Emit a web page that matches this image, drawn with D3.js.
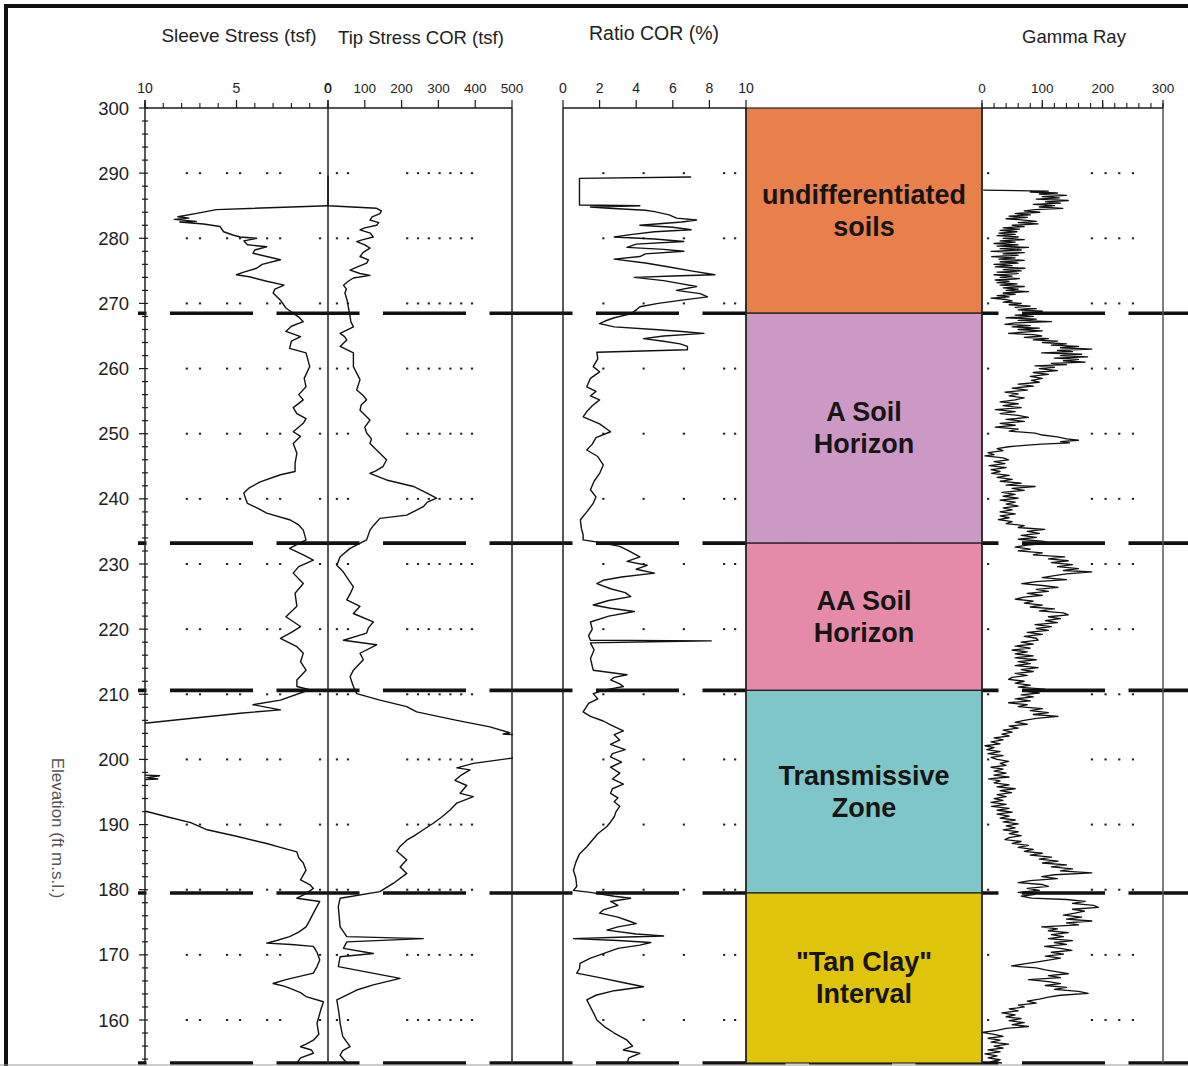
<!DOCTYPE html>
<html>
<head>
<meta charset="utf-8">
<script src="https://cdn.jsdelivr.net/npm/d3@7"></script>
<style>
  body { margin: 0; background: #fff; }
  svg { display: block; font-family: "Liberation Sans", Arial, sans-serif; }
</style>
</head>
<body>
<div id="chart"></div>
<script>
// ---- data (elevation in ft m.s.l., value) ----
const sleeveStress = [
  [285.0, 0], [284.4, 6.1], [283.7, 7.4], [283.3, 8.2], [283.1, 7.6], [282.9, 8.4], [282.6, 7.2], [282.5, 8.1],
  [282.2, 6.8], [281.8, 5.9], [281.0, 5.7], [280.5, 5.2], [280.2, 4.8], [280.0, 3.9], [279.6, 4.6], [279.0, 4.4],
  [278.7, 3.35], [278.2, 4.0], [277.7, 4.1], [277.2, 3.35], [276.7, 2.6], [276.0, 3.6], [275.4, 3.9], [274.8, 4.6],
  [274.4, 5.0], [274.1, 4.3], [273.4, 3.35], [272.8, 2.4], [272.2, 2.9], [271.6, 3.0], [270.5, 2.6], [269.3, 2.3],
  [268.5, 1.9], [267.9, 1.6], [267.2, 1.35], [266.5, 2.0], [265.7, 2.3], [264.9, 1.5], [264.2, 2.0], [263.1, 2.1],
  [262.4, 1.2], [260.3, 1.0], [258.5, 1.3], [257.2, 1.2], [256.0, 1.6], [255.2, 1.35], [254.0, 1.9], [253.1, 1.7],
  [252.3, 1.2], [251.6, 1.35], [250.3, 1.9], [249.6, 1.5], [248.5, 1.9], [247.0, 1.7], [245.5, 1.8], [244.2, 1.8],
  [243.7, 2.6], [242.6, 3.7], [241.7, 4.3], [240.9, 4.6], [240.0, 4.5], [239.3, 4.4], [238.5, 3.8], [237.8, 3.35],
  [236.8, 2.1], [236.0, 1.6], [235.2, 1.35], [233.7, 1.2], [232.4, 2.1], [231.4, 1.35], [230.6, 0.8], [229.6, 1.6],
  [228.6, 1.9], [227.0, 1.35], [225.5, 1.8], [223.5, 1.7], [221.9, 2.3], [220.4, 1.5], [219.5, 2.0], [218.6, 2.6],
  [217.3, 1.7], [216.3, 1.35], [215.0, 1.5], [213.7, 1.2], [212.2, 1.7], [211.2, 1.7], [210.7, 1.0], [209.1, 2.6],
  [208.4, 4.1], [207.6, 2.6], [207.1, 4.8], [205.6, 9.9], [205.3, 12], [197.8, 12], [197.5, 9.2], [197.2, 9.9],
  [197.0, 9.3], [196.7, 12], [192.3, 12], [192.0, 9.9], [191.2, 8.8], [190.3, 7.5], [189.2, 6.6], [188.2, 5.0],
  [187.1, 3.35], [186.5, 2.6], [185.8, 1.7], [184.9, 1.6], [184.1, 1.35], [183.0, 1.2], [181.5, 1.5], [180.8, 1.0],
  [180.2, 0.8], [179.4, 1.2], [178.7, 1.7], [178.2, 0.45], [176.4, 0.8], [175.3, 1.0], [174.3, 1.2], [173.5, 1.6],
  [172.8, 2.1], [172.2, 2.8], [171.8, 3.35], [171.6, 2.0], [171.3, 0.8], [170.4, 0.6], [169.2, 0.45], [168.2, 0.6],
  [167.2, 0.8], [166.2, 2.3], [165.6, 3.0], [165.2, 2.4], [164.9, 2.1], [164.2, 1.5], [163.6, 1.2], [162.8, 0.25],
  [161.5, 0.4], [159.5, 0.6], [157.8, 0.5], [156.9, 0.8], [156.3, 1.2], [155.9, 1.5], [155.4, 0.9], [154.9, 0.8],
  [154.2, 1.5], [153.4, 1.7]
];

const tipStress = [
  [289.6, 0], [285.0, 0], [284.6, 132], [284.2, 145], [283.8, 141], [283.3, 120], [282.8, 114], [282.4, 138],
  [282.0, 132], [281.6, 100], [281.3, 87], [280.8, 115], [280.2, 123], [279.8, 95], [279.5, 78], [279.0, 100],
  [278.5, 114], [277.8, 95], [277.2, 87], [276.7, 110], [276.2, 105], [275.6, 80], [275.1, 60], [274.6, 87],
  [274.3, 114], [273.9, 69], [273.4, 55], [272.8, 42], [272.2, 50], [271.6, 46], [270.5, 52], [269.5, 55],
  [268.0, 60], [267.2, 62], [266.4, 69], [265.4, 33], [264.9, 45], [264.4, 51], [263.4, 33], [262.4, 69],
  [260.3, 69], [258.3, 87], [256.7, 78], [255.9, 95], [255.2, 105], [254.4, 90], [253.6, 87], [252.1, 114],
  [251.0, 100], [250.1, 105], [249.2, 118], [248.5, 114], [247.0, 141], [246.0, 159], [245.0, 150], [244.3, 130],
  [243.9, 114], [242.9, 159], [241.9, 232], [241.0, 265], [240.1, 295], [239.5, 270], [238.8, 259], [237.5, 214],
  [237.0, 141], [236.0, 125], [235.2, 114], [233.7, 105], [232.4, 60], [231.1, 33], [229.8, 24], [228.9, 40],
  [228.0, 51], [226.5, 69], [225.4, 60], [224.5, 51], [223.5, 87], [222.4, 69], [221.1, 123], [220.2, 110],
  [219.4, 105], [218.3, 42], [217.6, 132], [216.3, 87], [215.3, 96], [213.7, 69], [212.7, 60], [211.2, 69],
  [210.1, 78], [209.1, 141], [208.1, 214], [207.3, 241], [206.0, 350], [205.0, 440], [204.1, 494], [203.9, 476],
  [203.7, 530], [200.4, 530], [200.2, 500], [199.4, 395], [198.7, 350], [198.4, 386], [197.5, 360], [196.8, 345],
  [196.0, 377], [194.8, 359], [194.3, 395], [193.3, 350], [192.2, 331], [191.2, 310], [190.2, 286], [189.2, 259],
  [188.3, 235], [187.6, 214], [186.6, 195], [185.9, 187], [184.6, 214], [183.5, 196], [182.5, 214], [181.0, 178],
  [179.7, 141], [178.7, 33], [177.4, 28], [174.3, 33], [172.8, 51], [172.5, 259], [172.0, 51], [171.0, 42],
  [170.2, 123], [169.7, 33], [168.2, 28], [166.4, 196], [165.4, 123], [164.6, 78], [163.1, 24], [161.0, 30],
  [159.5, 33], [157.5, 40], [155.9, 60], [155.3, 40], [154.6, 33], [153.4, 51]
];

const ratioCOR = [
  [289.4, 7.0], [289.2, 0.9], [285.1, 0.9], [285.0, 4.2], [284.8, 1.5], [284.6, 2.5], [284.3, 4.5], [284.1, 5.0],
  [283.6, 5.8], [283.1, 6.2], [282.8, 7.3], [282.5, 6.5], [282.0, 4.2], [281.7, 6.0], [281.3, 7.0], [281.0, 5.0],
  [280.6, 3.8], [280.2, 2.8], [279.9, 5.0], [279.5, 6.6], [279.1, 4.0], [278.6, 3.5], [278.3, 5.5], [278.0, 6.6],
  [277.6, 4.5], [277.2, 4.2], [276.8, 2.8], [276.2, 4.5], [275.6, 5.8], [275.0, 7.0], [274.4, 8.3], [274.2, 6.0],
  [274.0, 3.9], [273.5, 5.5], [273.0, 6.5], [272.6, 7.3], [272.0, 6.2], [271.5, 7.5], [271.0, 7.9], [270.5, 6.5],
  [270.0, 5.2], [269.5, 4.2], [269.0, 4.0], [268.4, 3.7], [267.8, 2.8], [267.3, 2.3], [266.9, 2.0], [266.4, 2.8],
  [266.0, 5.0], [265.7, 6.5], [265.4, 7.7], [265.0, 5.5], [264.6, 4.4], [264.2, 5.5], [263.8, 6.4], [263.4, 6.8],
  [262.9, 6.8], [262.5, 1.85], [261.5, 1.9], [260.3, 1.65], [259.5, 2.0], [258.5, 1.5], [257.2, 1.3], [256.5, 1.8],
  [255.8, 1.5], [255.2, 2.0], [254.3, 1.6], [253.4, 1.3], [252.6, 1.1], [251.5, 2.0], [250.3, 2.6], [249.4, 1.8],
  [248.4, 1.6], [247.5, 1.3], [246.5, 1.9], [245.2, 2.2], [243.9, 2.0], [242.7, 1.7], [241.4, 1.5], [240.3, 1.8],
  [239.3, 1.65], [238.0, 1.3], [236.8, 0.95], [235.5, 1.0], [234.5, 1.1], [233.7, 1.1], [233.4, 1.8], [232.7, 3.1],
  [232.0, 3.6], [231.1, 4.2], [230.4, 3.5], [229.8, 4.6], [229.2, 4.0], [228.6, 5.0], [228.0, 3.2], [227.5, 2.2],
  [227.0, 1.85], [226.2, 2.6], [225.6, 3.4], [225.0, 3.7], [224.4, 2.5], [223.7, 1.65], [223.2, 2.6], [222.7, 3.9],
  [222.0, 2.5], [221.1, 1.5], [220.0, 1.6], [219.0, 1.4], [218.3, 1.5], [218.2, 8.1], [217.9, 1.5], [216.8, 1.7],
  [215.5, 1.5], [214.3, 1.6], [213.7, 1.65], [213.0, 3.5], [212.6, 2.8], [212.2, 2.6], [211.6, 3.1], [211.2, 3.3],
  [210.6, 2.2], [210.1, 1.65], [209.3, 1.9], [208.6, 1.4], [207.3, 1.1], [206.6, 1.5], [205.9, 2.2], [205.3, 2.6],
  [204.4, 3.3], [203.8, 2.8], [203.0, 3.1], [202.3, 2.6], [201.5, 3.4], [200.9, 2.7], [200.4, 2.6], [199.6, 3.2],
  [198.8, 2.6], [197.9, 3.1], [197.0, 2.7], [196.2, 3.3], [195.5, 2.7], [194.8, 2.6], [194.1, 3.0], [193.5, 2.8],
  [192.8, 3.1], [192.0, 2.9], [191.2, 2.8], [190.4, 2.6], [189.7, 2.4], [188.6, 1.9], [187.6, 1.6], [186.6, 1.3],
  [185.5, 0.9], [184.2, 0.7], [183.0, 0.57], [181.8, 0.7], [180.5, 0.75], [179.9, 0.57], [179.6, 1.5], [179.0, 2.8],
  [178.7, 3.7], [178.2, 2.6], [177.6, 3.0], [176.9, 2.2], [176.4, 2.0], [175.8, 3.0], [175.2, 3.6], [174.8, 4.0],
  [174.3, 3.0], [173.8, 2.4], [173.2, 4.0], [172.9, 5.5], [172.7, 3.0], [172.5, 0.57], [172.2, 3.0], [171.9, 4.8],
  [171.5, 4.2], [171.0, 3.0], [170.2, 2.2], [169.5, 1.5], [168.7, 0.93], [167.9, 0.9], [167.2, 0.75], [166.5, 2.0],
  [165.8, 3.2], [165.1, 4.4], [164.5, 2.8], [163.8, 1.8], [163.1, 1.3], [162.0, 1.5], [160.9, 1.7], [160.0, 1.85],
  [158.9, 2.3], [158.0, 2.8], [156.9, 3.5], [156.0, 3.8], [155.4, 3.3], [154.9, 4.2], [154.2, 3.6], [153.4, 3.5]
];

const gammaRay = [
  [287.4, 2], [287.25, 110], [287.1, 80], [286.95, 125], [286.8, 95], [286.6, 140], [286.4, 100], [286.2, 128],
  [286.0, 90], [285.8, 143], [285.6, 105], [285.4, 130], [285.2, 85], [285.0, 120], [284.8, 95], [284.6, 134],
  [284.4, 88], [284.2, 70], [284.0, 96], [283.8, 55], [283.6, 80], [283.4, 45], [283.2, 75], [283.0, 40],
  [282.8, 70], [282.6, 90], [282.4, 60], [282.2, 93], [282.0, 50], [281.8, 70], [281.6, 35], [281.4, 62],
  [281.2, 30], [281.0, 58], [280.8, 28], [280.6, 55], [280.4, 25], [280.2, 60], [280.0, 35], [279.8, 70],
  [279.6, 30], [279.4, 55], [279.2, 20], [279.0, 60], [278.8, 25], [278.6, 77], [278.4, 30], [278.2, 65],
  [278.0, 15], [277.8, 70], [277.6, 35], [277.4, 60], [277.2, 16], [277.0, 55], [276.8, 28], [276.6, 70],
  [276.4, 30], [276.2, 60], [276.0, 20], [275.8, 50], [275.6, 22], [275.4, 71], [275.2, 35], [275.0, 65],
  [274.8, 25], [274.6, 60], [274.4, 20], [274.2, 50], [274.0, 30], [273.8, 62], [273.6, 22], [273.4, 45],
  [273.2, 25], [273.0, 58], [272.8, 30], [272.6, 70], [272.4, 35], [272.2, 60], [272.0, 40], [271.8, 77],
  [271.6, 35], [271.4, 55], [271.2, 25], [271.0, 45], [270.8, 15], [270.6, 40], [270.4, 50], [270.2, 35],
  [270.0, 65], [269.8, 45], [269.6, 80], [269.4, 55], [269.2, 90], [269.0, 60], [268.8, 100], [268.6, 70],
  [268.4, 95], [268.2, 55], [268.0, 85], [267.8, 40], [267.6, 90], [267.4, 60], [267.2, 115], [267.0, 55],
  [266.8, 38], [266.6, 80], [266.4, 50], [266.2, 95], [266.0, 60], [265.8, 100], [265.6, 70], [265.4, 44],
  [265.2, 85], [265.0, 99], [264.8, 70], [264.6, 110], [264.4, 85], [264.2, 125], [264.0, 100], [263.8, 140],
  [263.6, 115], [263.4, 160], [263.2, 130], [263.0, 182], [262.8, 125], [262.6, 150], [262.4, 99], [262.2, 165],
  [262.0, 130], [261.8, 175], [261.6, 120], [261.4, 160], [261.2, 135], [261.0, 171], [260.8, 115], [260.6, 140],
  [260.4, 88], [260.2, 120], [260.0, 95], [259.7, 125], [259.4, 85], [259.1, 110], [258.8, 80], [258.5, 100],
  [258.2, 82], [257.9, 95], [257.6, 60], [257.3, 85], [257.0, 50], [256.7, 75], [256.4, 38], [256.1, 60],
  [255.8, 45], [255.5, 70], [255.2, 55], [254.9, 30], [254.6, 60], [254.3, 35], [254.0, 65], [253.7, 22],
  [253.4, 55], [253.1, 30], [252.8, 60], [252.5, 77], [252.2, 40], [251.9, 70], [251.6, 30], [251.3, 55],
  [251.0, 22], [250.7, 60], [250.4, 45], [250.1, 88], [249.8, 100], [249.5, 125], [249.2, 140], [249.0, 160],
  [248.8, 130], [248.6, 145], [248.4, 99], [248.2, 70], [248.0, 44], [247.7, 25], [247.4, 35], [247.1, 10],
  [246.8, 20], [246.6, 5], [246.3, 35], [246.0, 44], [245.7, 20], [245.4, 38], [245.1, 12], [244.8, 40],
  [244.5, 15], [244.2, 30], [243.9, 16], [243.6, 45], [243.3, 25], [243.0, 50], [242.7, 30], [242.4, 65],
  [242.1, 40], [241.9, 88], [241.6, 50], [241.3, 70], [241.0, 33], [240.7, 55], [240.4, 35], [240.1, 60],
  [239.8, 30], [239.5, 55], [239.2, 40], [238.9, 60], [238.6, 35], [238.3, 50], [238.0, 30], [237.7, 55],
  [237.4, 30], [237.1, 45], [236.8, 27], [236.5, 50], [236.2, 40], [235.9, 70], [235.6, 60], [235.3, 104],
  [235.0, 75], [234.7, 95], [234.4, 65], [234.1, 90], [233.8, 60], [233.5, 100], [233.2, 115], [232.9, 75],
  [232.6, 55], [232.3, 80], [232.0, 60], [231.7, 100], [231.4, 85], [231.1, 137], [230.8, 110], [230.5, 143],
  [230.2, 115], [229.9, 150], [229.6, 125], [229.3, 160], [229.0, 135], [228.8, 182], [228.5, 140], [228.2, 120],
  [227.9, 100], [227.6, 140], [227.3, 90], [227.0, 66], [226.7, 100], [226.4, 126], [226.1, 90], [225.8, 110],
  [225.5, 75], [225.2, 100], [224.9, 70], [224.6, 55], [224.3, 85], [224.0, 70], [223.7, 100], [223.4, 80],
  [223.1, 120], [222.8, 95], [222.5, 135], [222.2, 143], [221.9, 110], [221.6, 130], [221.3, 105], [221.0, 125],
  [220.7, 88], [220.4, 115], [220.1, 90], [219.8, 110], [219.5, 75], [219.2, 100], [218.9, 70], [218.6, 90],
  [218.3, 93], [218.0, 65], [217.7, 85], [217.4, 55], [217.1, 80], [216.8, 50], [216.5, 75], [216.2, 55],
  [215.9, 85], [215.6, 55], [215.3, 90], [215.0, 60], [214.7, 80], [214.4, 55], [214.1, 93], [213.8, 65],
  [213.5, 85], [213.2, 55], [212.9, 75], [212.6, 50], [212.3, 44], [212.0, 70], [211.7, 55], [211.4, 80],
  [211.1, 60], [210.8, 104], [210.5, 70], [210.2, 95], [209.9, 65], [209.6, 85], [209.3, 55], [209.0, 80],
  [208.7, 44], [208.4, 75], [208.1, 60], [207.8, 100], [207.5, 80], [207.2, 110], [206.9, 85], [206.6, 126],
  [206.3, 90], [206.0, 70], [205.7, 55], [205.4, 75], [205.1, 45], [204.8, 60], [204.5, 35], [204.2, 50],
  [203.9, 33], [203.6, 45], [203.3, 20], [203.0, 35], [202.7, 15], [202.4, 30], [202.1, 5], [201.8, 20],
  [201.5, 8], [201.2, 30], [200.9, 10], [200.6, 35], [200.3, 15], [200.0, 25], [199.7, 44], [199.4, 30],
  [199.1, 40], [198.8, 15], [198.5, 35], [198.2, 20], [197.9, 40], [197.6, 20], [197.3, 45], [197.0, 11],
  [196.7, 30], [196.4, 20], [196.1, 45], [195.8, 25], [195.5, 55], [195.2, 30], [194.9, 49], [194.6, 25],
  [194.3, 40], [194.0, 20], [193.7, 35], [193.4, 15], [193.1, 40], [192.8, 16], [192.5, 45], [192.2, 25],
  [191.9, 50], [191.6, 25], [191.3, 45], [191.0, 30], [190.7, 55], [190.4, 35], [190.1, 60], [189.8, 40],
  [189.5, 55], [189.2, 35], [188.9, 60], [188.6, 45], [188.3, 65], [188.0, 45], [187.7, 38], [187.4, 65],
  [187.1, 50], [186.8, 77], [186.5, 60], [186.2, 85], [185.9, 70], [185.6, 100], [185.3, 80], [185.0, 115],
  [184.7, 95], [184.4, 126], [184.1, 100], [183.8, 140], [183.5, 115], [183.2, 150], [182.9, 130], [182.6, 182],
  [182.3, 120], [182.0, 99], [181.7, 125], [181.4, 80], [181.1, 60], [180.8, 100], [180.5, 110], [180.2, 75],
  [179.9, 95], [179.6, 60], [179.3, 88], [179.0, 65], [178.7, 82], [178.5, 140], [178.2, 171], [177.9, 150],
  [177.6, 185], [177.3, 193], [177.0, 150], [176.7, 170], [176.4, 154], [176.1, 135], [175.8, 165], [175.5, 140],
  [175.2, 182], [174.9, 140], [174.6, 160], [174.3, 99], [174.0, 125], [173.7, 110], [173.4, 143], [173.1, 115],
  [172.8, 135], [172.5, 110], [172.2, 150], [171.9, 120], [171.6, 140], [171.3, 104], [171.0, 130], [170.7, 149],
  [170.4, 115], [170.1, 135], [169.8, 105], [169.5, 130], [169.2, 110], [168.9, 90], [168.6, 70], [168.3, 49],
  [168.0, 90], [167.7, 105], [167.4, 125], [167.1, 143], [166.8, 110], [166.5, 130], [166.2, 77], [165.9, 110],
  [165.6, 130], [165.3, 105], [165.0, 140], [164.7, 120], [164.4, 160], [164.1, 176], [163.8, 130], [163.5, 110],
  [163.2, 95], [162.9, 75], [162.6, 90], [162.3, 60], [162.0, 70], [161.7, 45], [161.4, 60], [161.1, 33],
  [160.8, 55], [160.5, 40], [160.2, 65], [159.9, 45], [159.6, 70], [159.3, 50], [159.0, 77], [158.7, 40],
  [158.4, 25], [158.1, 0], [157.8, 20], [157.5, 35], [157.2, 10], [156.9, 30], [156.6, 15], [156.3, 44],
  [156.0, 20], [155.7, 35], [155.4, 10], [155.1, 30], [154.8, 5], [154.5, 25], [154.2, 10], [153.9, 30],
  [153.6, 15], [153.4, 33]
];

// lithology units: top / bottom elevation
const unitNames = [["undifferentiated", "soils"], ["A Soil", "Horizon"], ["AA Soil", "Horizon"],
                   ["Transmissive", "Zone"], ["\"Tan Clay\"", "Interval"]];
const unitTops = [300, 268.5, 233.2, 210.6, 179.5];
const unitBottoms = [268.5, 233.2, 210.6, 179.5, 153.4];
const unitColors = ["#e97f4b", "#cc98c4", "#e68aa9", "#7fc6c8", "#e0c40b"];

// tick labels
const elevTicks = [300, 290, 280, 270, 260, 250, 240, 230, 220, 210, 200, 190, 180, 170, 160];
const sleeveTicks = [10, 5, 0];
const tipTicks = [0, 100, 200, 300, 400, 500];
const ratioTicks = [0, 2, 4, 6, 8, 10];
const gammaTicks = [0, 100, 200, 300];

// ---- layout ----
const W = 1188, H = 1066;
const svg = d3.select("#chart").append("svg").attr("width", W).attr("height", H);

const y = d3.scaleLinear().domain([300, 153.4]).range([108, 1063]);
const xSleeve = d3.scaleLinear().domain([10, 0]).range([145, 328]);
const xTip = d3.scaleLinear().domain([0, 500]).range([328, 512]);
const xRatio = d3.scaleLinear().domain([0, 10]).range([563, 746]);
const xGamma = d3.scaleLinear().domain([0, 300]).range([982, 1163]);

const ink = "#1a1a1a";

// dotted grid rows every 10 ft (sparse dots like the original print)
const gridElevs = d3.range(290, 155, -10);
const dotRuns = [
  [xSleeve, 7.72, 7.0, 2], [xSleeve, 5.52, 4.81, 2], [xSleeve, 3.33, 2.62, 2], [xSleeve, 0.44, 0.44, 1],
  [xTip, 24, 54, 2], [xTip, 215, 391, 7],
  [xRatio, 2.2, 6.6, 3], [xRatio, 8.8, 9.4, 2],
  [xGamma, 10, 10, 1], [xGamma, 182, 250, 4]
];
const dots = svg.append("g");
gridElevs.forEach(e => {
  dotRuns.forEach(([sc, a, b, n]) => {
    for (let i = 0; i < n; i++) {
      const v = n === 1 ? a : a + (b - a) * i / (n - 1);
      dots.append("rect").attr("x", sc(v) - 1).attr("y", y(e) - 1)
        .attr("width", 2.2).attr("height", 2).attr("fill", "#222");
    }
  });
});

// dashed unit boundaries
svg.append("g").selectAll("line").data(unitBottoms).join("line")
  .attr("x1", 138).attr("x2", W)
  .attr("y1", d => y(d)).attr("y2", d => y(d))
  .attr("stroke", "#111").attr("stroke-width", 3.6)
  .attr("stroke-dasharray", "83 23.5").attr("stroke-dashoffset", 74.5);

// lithology column
const units = unitNames.map((n, i) => ({ name: n, top: unitTops[i], bot: unitBottoms[i], color: unitColors[i] }));
const lith = svg.append("g");
const lithMid = (xRatio(10) + xGamma(0)) / 2;
lith.selectAll("rect").data(units).join("rect")
  .attr("x", xRatio(10)).attr("width", xGamma(0) - xRatio(10))
  .attr("y", d => y(d.top)).attr("height", d => y(d.bot) - y(d.top))
  .attr("fill", d => d.color).attr("stroke", "#222").attr("stroke-width", 1.2);
lith.selectAll("text").data(units).join("text")
  .attr("x", lithMid)
  .attr("y", d => (y(d.top) + y(d.bot)) / 2)
  .attr("text-anchor", "middle")
  .attr("font-size", 27).attr("font-weight", "bold").attr("fill", "#151515")
  .selectAll("tspan").data(d => d.name.map((t, i) => ({ t, i }))).join("tspan")
  .attr("x", lithMid)
  .attr("dy", d => d.i === 0 ? -7 : 32)
  .text(d => d.t);

// vertical frame lines
const vlines = [
  [xSleeve(10), "#222"], [xSleeve(0), "#222"], [xTip(500), "#222"],
  [xRatio(0), "#222"], [xRatio(10), "#222"], [xGamma(0), "#222"], [xGamma(300), "#555"]
];
svg.append("g").selectAll("line").data(vlines).join("line")
  .attr("x1", d => d[0]).attr("x2", d => d[0])
  .attr("y1", 108).attr("y2", 1063)
  .attr("stroke", d => d[1]).attr("stroke-width", 1.5);

// top axes
function topAxis(scale, majors, minorStep, labelSize) {
  const g = svg.append("g");
  const [d0, d1] = scale.domain();
  g.append("line").attr("x1", scale(d0)).attr("x2", scale(d1)).attr("y1", 108).attr("y2", 108)
    .attr("stroke", ink).attr("stroke-width", 1.3);
  if (minorStep) {
    const lo = Math.min(d0, d1), hi = Math.max(d0, d1);
    d3.range(lo, hi + 1e-9, minorStep).forEach(v => {
      g.append("line").attr("x1", scale(v)).attr("x2", scale(v)).attr("y1", 108).attr("y2", 103)
        .attr("stroke", ink).attr("stroke-width", 1.1);
    });
  }
  majors.forEach(v => {
    g.append("line").attr("x1", scale(v)).attr("x2", scale(v)).attr("y1", 108).attr("y2", 100)
      .attr("stroke", ink).attr("stroke-width", 1.2);
  });
  g.selectAll("text").data(majors).join("text")
    .attr("x", d => scale(d)).attr("y", 93)
    .attr("text-anchor", "middle").attr("font-size", labelSize).attr("fill", "#222")
    .text(d => d);
}
topAxis(xSleeve, sleeveTicks, 1, 14);
topAxis(xTip, tipTicks, 0, 13.5);
topAxis(xRatio, ratioTicks, 0, 14);
topAxis(xGamma, gammaTicks, 20, 13.5);

// left elevation axis
const yAxisG = svg.append("g");
d3.range(154, 300.1, 2).forEach(v => {
  const major = v % 10 === 0;
  yAxisG.append("line").attr("x1", major ? 139 : 142).attr("x2", 148)
    .attr("y1", y(v)).attr("y2", y(v)).attr("stroke", ink).attr("stroke-width", 1.2);
});
yAxisG.append("line").attr("x1", 145).attr("x2", 145).attr("y1", 100).attr("y2", 108)
  .attr("stroke", ink).attr("stroke-width", 1.3);
yAxisG.selectAll("text").data(elevTicks).join("text")
  .attr("x", 129).attr("y", d => y(d) + 6.5)
  .attr("text-anchor", "end").attr("font-size", 18.5).attr("fill", "#222")
  .text(d => d);

svg.append("text")
  .attr("transform", "translate(52,828) rotate(90)")
  .attr("text-anchor", "middle").attr("font-size", 17).attr("fill", "#555")
  .text("Elevation (ft m.s.l.)");

// titles
const titles = [
  ["Sleeve Stress (tsf)", 239, 42, 19],
  ["Tip Stress COR (tsf)", 421, 44, 18.5],
  ["Ratio COR (%)", 654, 40, 19.5],
  ["Gamma Ray", 1074, 43, 18.5]
];
svg.append("g").selectAll("text").data(titles).join("text")
  .attr("x", d => d[1]).attr("y", d => d[2])
  .attr("text-anchor", "middle").attr("font-size", d => d[3]).attr("fill", "#222")
  .text(d => d[0]);

// curves
svg.append("defs").call(defs => {
  defs.append("clipPath").attr("id", "clipSleeve").append("rect")
    .attr("x", 145).attr("y", 100).attr("width", 200).attr("height", 970);
  defs.append("clipPath").attr("id", "clipTip").append("rect")
    .attr("x", 310).attr("y", 100).attr("width", 203).attr("height", 970);
});

function curve(data, xs, clip, sw) {
  const line = d3.line().x(d => xs(d[1])).y(d => y(d[0]));
  const p = svg.append("path").datum(data)
    .attr("d", line).attr("fill", "none")
    .attr("stroke", "#111").attr("stroke-width", sw).attr("stroke-linejoin", "round");
  if (clip) p.attr("clip-path", `url(#${clip})`);
}
curve(sleeveStress, xSleeve, "clipSleeve", 1.4);
curve(tipStress, xTip, "clipTip", 1.4);
curve(ratioCOR, xRatio, null, 1.4);
curve(gammaRay, xGamma, null, 1.3);

// outer frame (top and left edges)
svg.append("path").attr("d", `M6,${H} L6,6 L${W},6`)
  .attr("fill", "none").attr("stroke", "#111").attr("stroke-width", 4);
svg.append("line").attr("x1", 0).attr("x2", W).attr("y1", 1065).attr("y2", 1065)
  .attr("stroke", "#999").attr("stroke-width", 1);
</script>
</body>
</html>
